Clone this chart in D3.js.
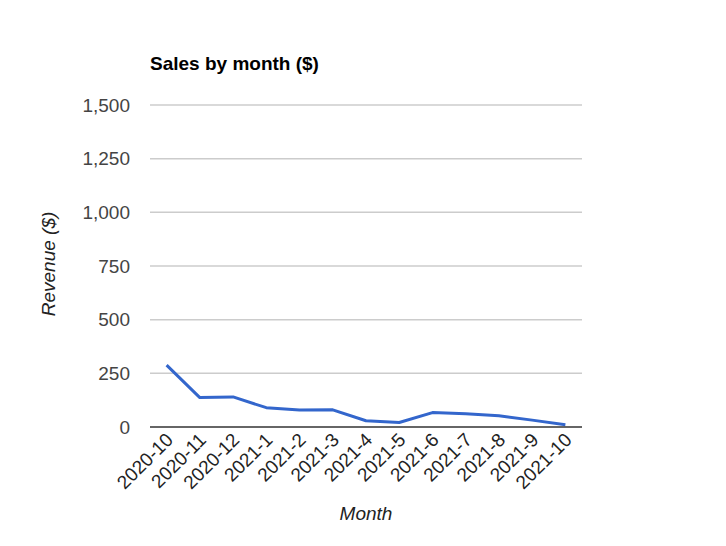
<!DOCTYPE html>
<html><head><meta charset="utf-8">
<script src="https://cdn.jsdelivr.net/npm/d3@7"></script>
<style>body{margin:0;background:#fff}svg{display:block}text{font-family:"Liberation Sans",Arial,sans-serif}</style>
</head><body><svg id="c" width="726" height="546"></svg>
<script>
const months = ["2020-10","2020-11","2020-12","2021-1","2021-2","2021-3","2021-4","2021-5","2021-6","2021-7","2021-8","2021-9","2021-10"];
const revenue = [288,137,140,90,79,80,29,21,67,62,52,32,11];
const yTicks = [0,250,500,750,1000,1250,1500];

const svg = d3.select("#c");
const L = 150, R = 582, T = 105, B = 427;
const x = d3.scalePoint().domain(months).range([L, R]).padding(0.5);
const y = d3.scaleLinear().domain([0,1500]).range([B, T]);

svg.append("g").selectAll("line").data(yTicks.filter(d=>d>0)).join("line")
  .attr("x1", L).attr("x2", R).attr("y1", d=>y(d)).attr("y2", d=>y(d))
  .attr("stroke", "#cccccc").attr("stroke-width", 1.5);

const yAxis = svg.append("g").attr("transform", `translate(${L},0)`)
  .call(d3.axisLeft(y).tickValues(yTicks).tickSize(0).tickPadding(20).tickFormat(d3.format(",")));
yAxis.select(".domain").remove();
yAxis.selectAll("text").attr("font-size", 19).attr("fill", "#444");

const xAxis = svg.append("g").attr("transform", `translate(0,${B})`)
  .call(d3.axisBottom(x).tickSize(0).tickPadding(0));
xAxis.select(".domain").remove();
xAxis.selectAll("text").attr("font-size", 19).attr("fill", "#222")
  .attr("text-anchor", "end").attr("dy", null).attr("y", 0)
  .attr("transform", "translate(7,14) rotate(-45)");

svg.append("path").datum(revenue)
  .attr("fill", "none").attr("stroke", "#3366cc").attr("stroke-width", 3)
  .attr("stroke-linejoin", "round")
  .attr("d", d3.line().x((d,i)=>x(months[i])).y(d=>y(d)));

svg.append("line").attr("x1", L).attr("x2", R).attr("y1", y(0)).attr("y2", y(0))
  .attr("stroke", "#333").attr("stroke-width", 1.5);

svg.append("text").attr("x", 150).attr("y", 70).attr("font-size", 19).attr("font-weight", "bold")
  .attr("fill", "#000").text("Sales by month ($)");
svg.append("text").attr("x", 366).attr("y", 520).attr("text-anchor", "middle")
  .attr("font-size", 19).attr("font-style", "italic").attr("fill", "#222").text("Month");
svg.append("text").attr("transform", "translate(55,264) rotate(-90)").attr("text-anchor", "middle")
  .attr("font-size", 19).attr("font-style", "italic").attr("fill", "#222").text("Revenue ($)");
</script></body></html>
